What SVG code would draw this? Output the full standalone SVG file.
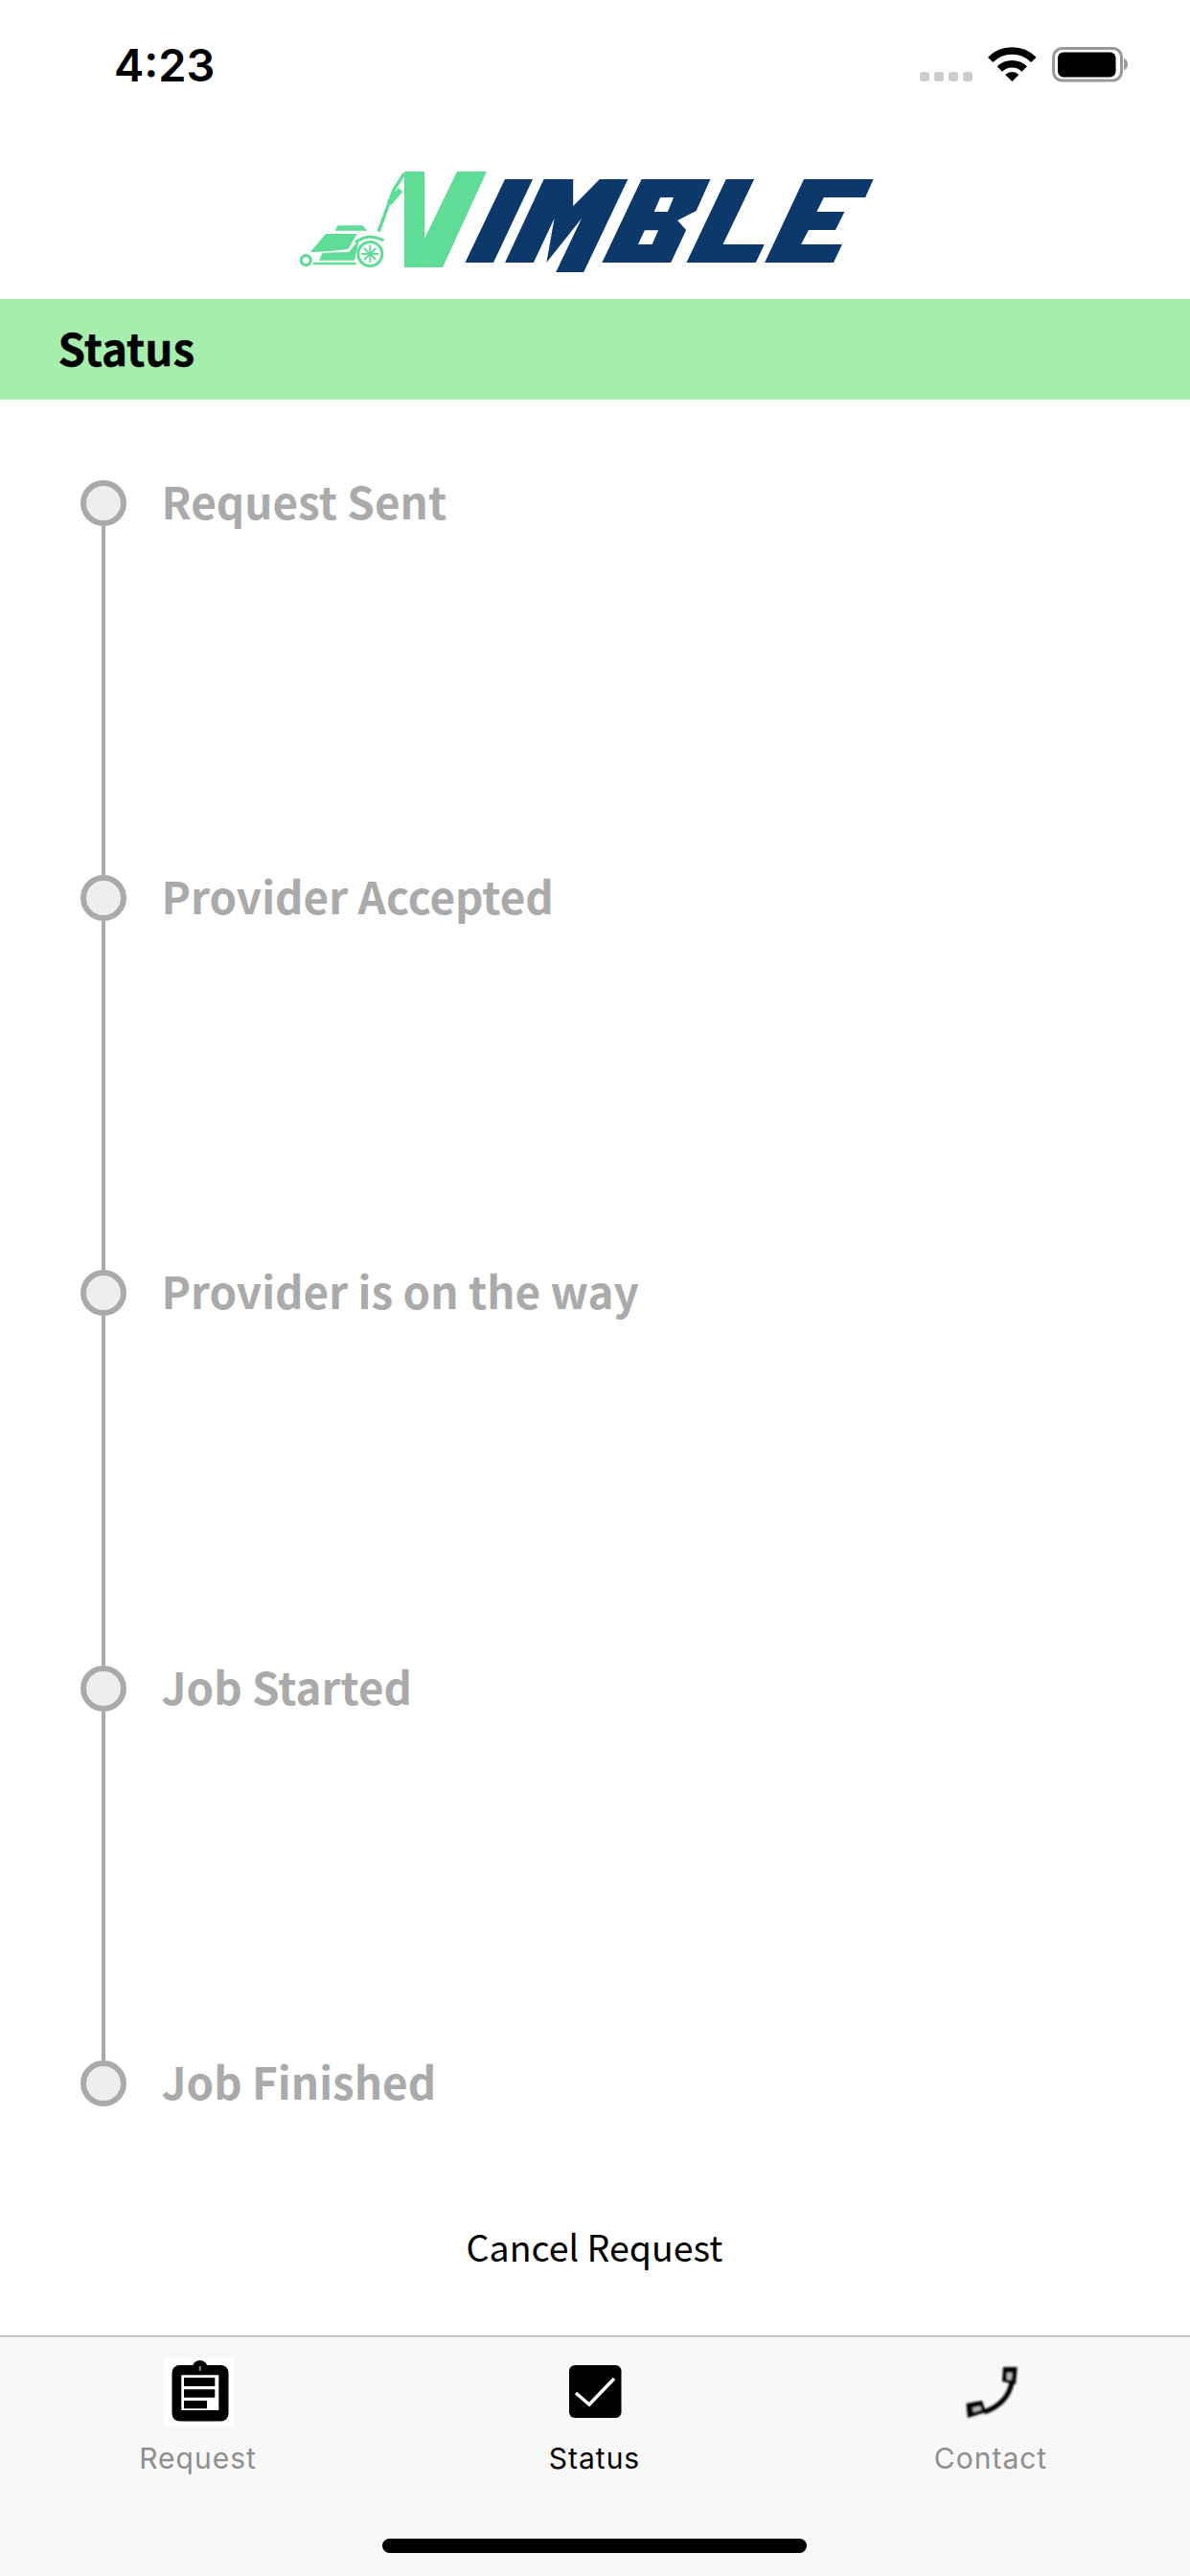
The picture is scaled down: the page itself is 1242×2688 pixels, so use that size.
<svg xmlns="http://www.w3.org/2000/svg" width="1242" height="2688" viewBox="0 0 1242 2688">
<defs>
<filter id="soft" x="-10%" y="-10%" width="120%" height="120%"><feGaussianBlur stdDeviation="0.6"/></filter>
<filter id="soft2" x="-10%" y="-10%" width="120%" height="120%"><feGaussianBlur stdDeviation="0.9"/></filter>
</defs>
<style>
.cjk{font-family:"Noto Sans CJK JP","Noto Sans",sans-serif}
.step{font-size:45.8px;font-weight:700;fill:#aaaaaa}
.dot{fill:#eeeeee;stroke:#aaaaaa;stroke-width:6}
.conn{stroke:#aaaaaa;stroke-width:4;fill:none}
.tab{font-family:Inter,"Liberation Sans",sans-serif;font-size:30px;text-anchor:middle;letter-spacing:1px}
.g{fill:#5fdc96}.gs{stroke:#5fdc96;fill:none}
.n{fill:#07386b;fill-rule:evenodd}
.sig{fill:#cccccc}
</style>
<rect width="1242" height="2688" fill="#ffffff"/>
<g id="status-bar">
<text x="119" y="85" font-family="Inter,'Liberation Sans',sans-serif" font-size="47" font-weight="600" fill="#000">4:23</text>
<rect class="sig" x="960" y="75" width="10" height="10" rx="3"/><rect class="sig" x="975" y="75" width="10" height="10" rx="3"/><rect class="sig" x="990" y="75" width="10" height="10" rx="3"/><rect class="sig" x="1005" y="75" width="10" height="10" rx="3"/>
<path d="M1033.7,62.4A32,32 0 0 1 1078.9,62.4M1043.3,72A18.5,18.5 0 0 1 1069.3,72" fill="none" stroke="#000" stroke-width="7.5"/>
<path d="M1056.3,85L1049.2,77.9A10,10 0 0 1 1063.4,77.9Z" fill="#000"/>
<rect x="1099.5" y="50.5" width="71" height="33.5" rx="9" fill="none" stroke="#999" stroke-width="3"/>
<rect x="1104" y="54.5" width="60.5" height="26" rx="6" fill="#000"/>
<path d="M1173,60.5Q1177,63 1177,67Q1177,71 1173,73.5Z" fill="#999"/>
</g>
<g id="logo" filter="url(#soft)">
<polygon class="g" points="422,179 443,179 443,249 477,179 508,179 462,279 422,279"/>
<polygon class="n" points="527,187 556,187 515,274 485.500,274"/>
<polygon class="n" points="567.600,187 598.200,187 598.200,215 625.900,187 655.300,187 609.200,284 580.200,284 607.100,227.700 570.400,274 578.600,227.700 556.900,274 527.100,274"/>
<path class="n" d="M669.600,187H741.400L726.700,220L707.100,230L716.100,240L700.200,274H628.400ZM689.200,206H703.100L696.900,221H682.700ZM672.900,240.300H687.100L680.600,255H665.900Z"/>
<polygon class="n" points="757.800,187 787.100,187 754.500,255 797.800,255 788.800,274 716.500,274"/>
<polygon class="n" points="839,187 911.600,187 903.100,206 859.800,206 852.400,221 881.400,221 872,240 843.900,240 836.100,255 878.900,255 870,274 798.200,274"/>
<path class="gs" stroke-width="3.500" d="M395,241.700L406,212L411,198L422,181"/>
<path class="gs" stroke-width="6" d="M406,212L418,198"/>
<polygon class="g" points="349.300,240.700 352.700,235.300 378.300,235.300 383.300,240.700"/>
<polygon class="g" points="323.700,263.300 340,244 372.700,244 363.300,260 345,262"/>
<polygon class="g" points="336.700,263.700 364,263 375,250 370,271.700 333,271.700"/>
<path class="gs" stroke-width="3" d="M371,253Q377,248 386,247Q395,248 400.500,251"/>
<circle class="gs" cx="386.300" cy="265" r="12.500" stroke-width="3"/>
<path class="gs" stroke-width="1.800" d="M386.300,256V274M377.500,265H395M380,259L392.500,271M392.500,259L380,271"/>
<circle class="gs" cx="319.300" cy="271.700" r="5" stroke-width="3.200"/>
<path class="gs" stroke-width="2.500" d="M326.700,275H371.700"/>
</g>
<g id="header">
<rect x="0" y="312" width="1242" height="105" fill="#a6eeae"/>
<text class="cjk" x="60.500" y="381.500" font-size="45.800" font-weight="700" fill="#000" stroke="#000" stroke-width="0.400">Status</text>
</g>
<g id="connectors">
<line class="conn" x1="108" y1="549" x2="108" y2="913"/>
<line class="conn" x1="108" y1="961" x2="108" y2="1325"/>
<line class="conn" x1="108" y1="1373" x2="108" y2="1738"/>
<line class="conn" x1="108" y1="1786" x2="108" y2="2150"/>
</g>
<g id="step-request-sent"><circle class="dot" cx="108" cy="525" r="21"/><text class="cjk step" x="168.500" y="541.500">Request Sent</text></g>
<g id="step-provider-accepted"><circle class="dot" cx="108" cy="937" r="21"/><text class="cjk step" x="168.500" y="953.500">Provider Accepted</text></g>
<g id="step-provider-on-way"><circle class="dot" cx="108" cy="1349" r="21"/><text class="cjk step" x="168.500" y="1365.500">Provider is on the way</text></g>
<g id="step-job-started"><circle class="dot" cx="108" cy="1762" r="21"/><text class="cjk step" x="168.500" y="1778.500">Job Started</text></g>
<g id="step-job-finished"><circle class="dot" cx="108" cy="2174" r="21"/><text class="cjk step" x="168.500" y="2190.500">Job Finished</text></g>
<g id="cancel-request"><text class="cjk" x="620.500" y="2359.500" font-size="37.500" text-anchor="middle" fill="#000">Cancel Request</text></g>
<g id="tab-bar">
<rect x="0" y="2438" width="1242" height="250" fill="#f8f8f8"/>
<rect x="0" y="2437" width="1242" height="1.500" fill="#b2b2b2"/>
<rect x="399" y="2649" width="443" height="15" rx="7.500" fill="#000"/>
</g>
<g id="tab-request">
<rect x="171" y="2460" width="73" height="72" fill="#ffffff"/>
<g filter="url(#soft)">
<circle cx="208.700" cy="2471" r="8" fill="#000"/>
<rect x="179.500" y="2468" width="59" height="58.500" rx="8" fill="#000"/>
<rect x="189.300" y="2478.300" width="39" height="36.700" fill="#fff"/>
<path d="M192,2481H224.300V2490H192ZM192,2493.300H224.300V2501.700H192ZM192,2505H216V2513.300H192Z" fill="#000"/>
<rect x="207.700" y="2469" width="2" height="5" fill="#888"/>
</g>
<text class="tab" x="206.500" y="2576" fill="#8e8e8f">Request</text>
</g>
<g id="tab-status">
<g filter="url(#soft)">
<rect x="594" y="2468" width="54.500" height="55" rx="6" fill="#000"/>
<path d="M601,2497L615,2509L641,2482" fill="none" stroke="#fff" stroke-width="3.500"/>
</g>
<text class="tab" x="620.500" y="2576" fill="#000">Status</text>
</g>
<g id="tab-contact">
<g filter="url(#soft2)">
<path d="M1047,2470H1061.700L1060,2488L1046,2485ZM1008.500,2508L1025,2505L1029,2517L1010,2523Z" fill="#000"/>
<path d="M1056,2486Q1052,2508 1027,2517" fill="none" stroke="#000" stroke-width="5"/>
<path d="M1051,2476H1056.500L1055.500,2483.500L1051,2483ZM1015,2512.500L1023,2510.500L1024.500,2514.500L1016,2517Z" fill="#bbb"/>
</g>
<text class="tab" x="1034" y="2576" fill="#8e8e8f">Contact</text>
</g>
</svg>
